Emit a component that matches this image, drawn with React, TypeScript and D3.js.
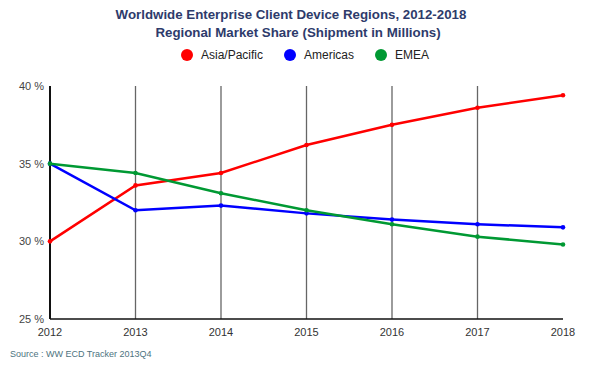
import React from 'react';
import * as d3 from 'd3';

const years = [2012, 2013, 2014, 2015, 2016, 2017, 2018];
const asiaPacific = [30.0, 33.6, 34.4, 36.2, 37.5, 38.6, 39.4];
const americas = [35.0, 32.0, 32.3, 31.8, 31.4, 31.1, 30.9];
const emea = [35.0, 34.4, 33.1, 32.0, 31.1, 30.3, 29.8];
const yTicks = [25, 30, 35, 40];

const seriesNames = ['Asia/Pacific', 'Americas', 'EMEA'];
const seriesColors = ['#ff0000', '#0000ff', '#009933'];

const width = 600;
const height = 370;
const margin = { left: 50, right: 37, top: 86, bottom: 51 };

export default function App() {
  const x = d3.scaleLinear()
    .domain([2012, 2018])
    .range([margin.left, width - margin.right]);
  const y = d3.scaleLinear()
    .domain([25, 40])
    .range([height - margin.bottom, margin.top]);

  const line = d3.line<number>()
    .x((_, i) => x(years[i]))
    .y(d => y(d));

  const series = [asiaPacific, americas, emea];
  const font = '"Liberation Sans", Arial, sans-serif';

  return (
    <svg width={width} height={height}
      style={{ position: 'absolute', left: 0, top: 0, background: '#fff' }}
      fontFamily={font}>
      {/* titre */}
      <text x={291} y={19} textAnchor="middle" fontSize={13.3} fontWeight="bold" fill="#2e3b6b">
        Worldwide Enterprise Client Device Regions, 2012-2018
      </text>
      <text x={298} y={37} textAnchor="middle" fontSize={13.3} fontWeight="bold" fill="#2e3b6b">
        Regional Market Share (Shipment in Millions)
      </text>

      {/* légende */}
      {seriesNames.map((name, i) => {
        const lx = [187, 290, 381][i];
        return (
          <g key={name}>
            <circle cx={lx} cy={55} r={6} fill={seriesColors[i]} />
            <text x={lx + 14} y={59} fontSize={12} fill="#222">{name}</text>
          </g>
        );
      })}

      {/* grille verticale */}
      {years.slice(1, -1).map(yr => (
        <line key={yr} x1={x(yr)} x2={x(yr)} y1={y(40)} y2={y(25)}
          stroke="#666" strokeWidth={1.3} />
      ))}

      {/* axes */}
      <line x1={x(2012)} x2={x(2012)} y1={y(40)} y2={y(25)} stroke="#111" strokeWidth={2} />
      <line x1={x(2012)} x2={x(2018)} y1={y(25)} y2={y(25)} stroke="#111" strokeWidth={1.5} />

      {yTicks.map(t => (
        <text key={t} x={44} y={y(t) + 4} textAnchor="end" fontSize={11} fill="#444">
          {t} %
        </text>
      ))}
      {years.map(yr => (
        <text key={yr} x={x(yr)} y={y(25) + 17} textAnchor="middle" fontSize={11} fill="#333">
          {yr}
        </text>
      ))}

      {/* séries */}
      {series.map((vals, i) => (
        <g key={seriesNames[i]}>
          <path d={line(vals) || ''} fill="none" stroke={seriesColors[i]} strokeWidth={2.5} />
          {vals.map((v, j) => (
            <circle key={j} cx={x(years[j])} cy={y(v)} r={2.3} fill={seriesColors[i]} />
          ))}
        </g>
      ))}

      <text x={10} y={357} fontSize={9} fill="#4d7380">Source : WW ECD Tracker 2013Q4</text>
    </svg>
  );
}
